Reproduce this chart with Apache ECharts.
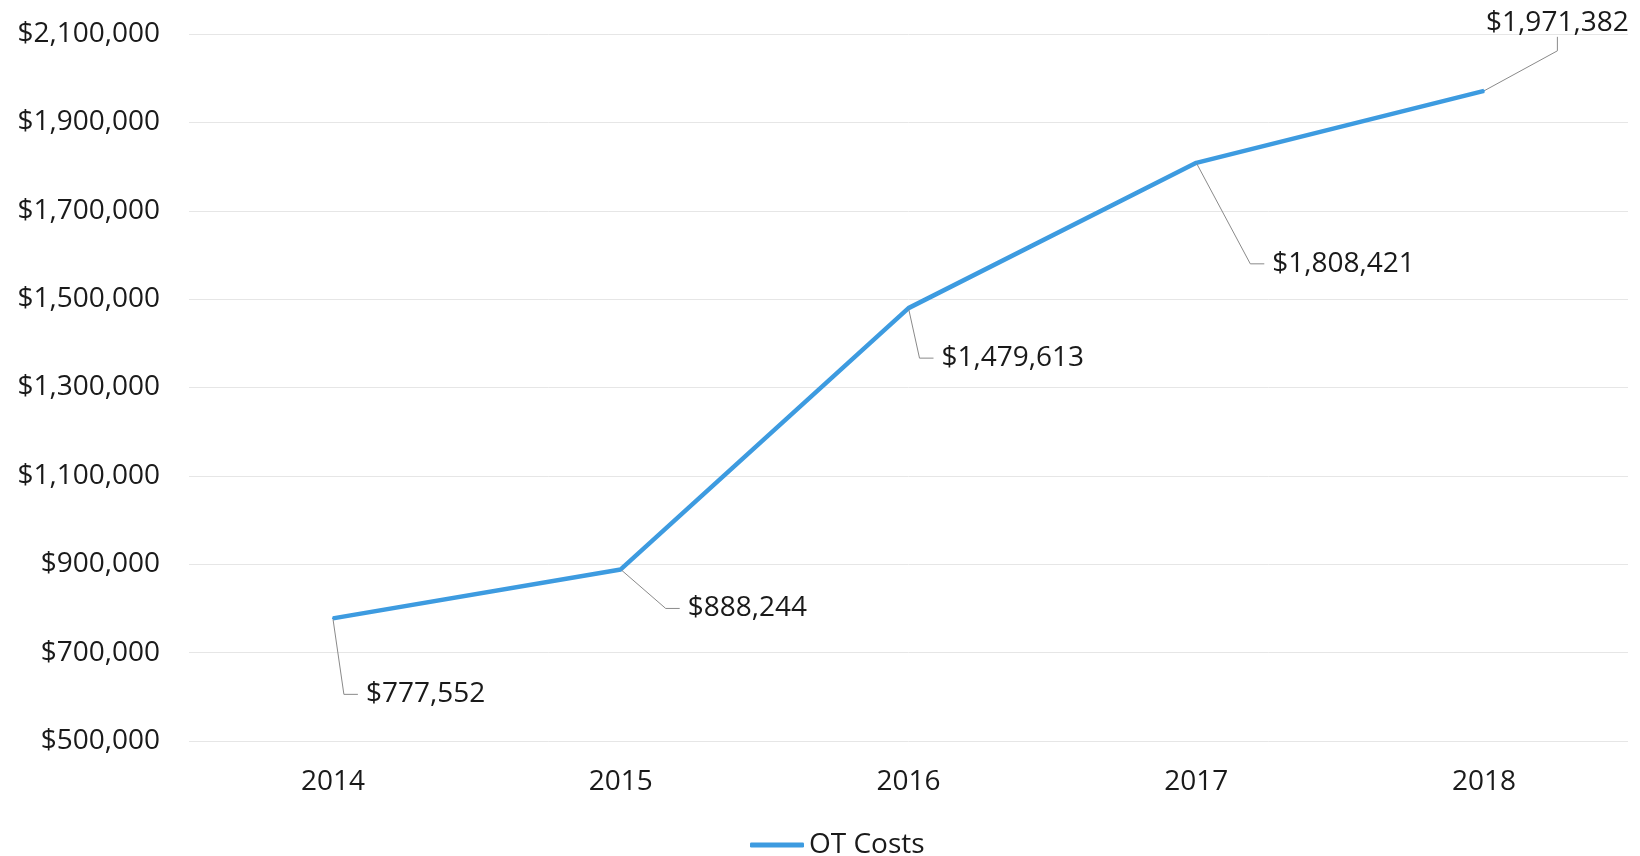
<!DOCTYPE html>
<html>
<head>
<meta charset="utf-8">
<script src="https://cdn.jsdelivr.net/npm/echarts@6/dist/echarts.min.js"></script>
<style>
  html, body { margin: 0; padding: 0; background: #fff; }
  #chart { width: 1640px; height: 856px; }
</style>
</head>
<body>
<div id="chart"></div>
<script>
// 数据
const years = ["2014", "2015", "2016", "2017", "2018"];
const otCosts = [777552, 888244, 1479613, 1808421, 1971382];
const seriesName = "OT Costs";

// 标签偏移（相对于数据点）
const labelOffsets = [
  [19, 76],
  [53, 39],
  [19, 50],
  [62, 101],
  [-64, -68],
];
// 标签内边距（控制引导线与文字的间距）
const labelPaddings = [
  [0, 0, 0, 8],
  [0, 0, 0, 8],
  [0, 0, 0, 8],
  [0, 0, 0, 8],
  [0, 60, 0, 60],
];

const fontFamily = "'Open Sans', 'Liberation Sans', sans-serif";
const fontSize = 28;
const textColor = "#1a1a1a";
const lineColor = "#3d9be0";

const money = (v) => "$" + v.toLocaleString("en-US");

const chart = echarts.init(document.getElementById("chart"));

const option = {
  animation: false,
  backgroundColor: "#fff",
  grid: {
    left: 189,
    right: 12,
    top: 34,
    bottom: 115,
  },
  legend: {
    top: 826,
    left: 745,
    icon: "roundRect",
    itemWidth: 54,
    itemHeight: 5,
    itemGap: 5,
    textStyle: {
      fontFamily,
      fontSize,
      color: textColor,
    },
    data: [seriesName],
  },
  xAxis: {
    type: "category",
    data: years,
    boundaryGap: true,
    axisLine: { show: false },
    axisTick: { show: false },
    axisLabel: {
      margin: 27,
      fontFamily,
      fontSize,
      color: textColor,
    },
  },
  yAxis: {
    type: "value",
    min: 500000,
    max: 2100000,
    interval: 200000,
    axisLine: { show: false },
    axisTick: { show: false },
    splitLine: {
      lineStyle: { color: "#e6e6e6", width: 1 },
    },
    axisLabel: {
      margin: 29,
      fontFamily,
      fontSize,
      color: textColor,
      formatter: money,
    },
  },
  series: [
    {
      name: seriesName,
      type: "line",
      data: otCosts.map((v, i) => ({
        value: v,
        label: { padding: labelPaddings[i] },
      })),
      symbol: "circle",
      symbolSize: 2,
      showSymbol: true,
      lineStyle: { color: lineColor, width: 4.5 },
      itemStyle: { color: lineColor },
      label: {
        show: true,
        position: "right",
        fontFamily,
        fontSize,
        color: textColor,
        backgroundColor: "rgba(255,255,255,0)",
        formatter: (p) => money(p.value),
      },
      labelLine: {
        show: true,
        length2: 14,
        lineStyle: { color: "#8a8a8a", width: 1 },
      },
      labelLayout: (params) => ({
        dx: labelOffsets[params.dataIndex][0],
        dy: labelOffsets[params.dataIndex][1],
      }),
    },
  ],
};

chart.setOption(option);

window.addEventListener("resize", () => {
  chart.resize();
});
</script>
</body>
</html>
